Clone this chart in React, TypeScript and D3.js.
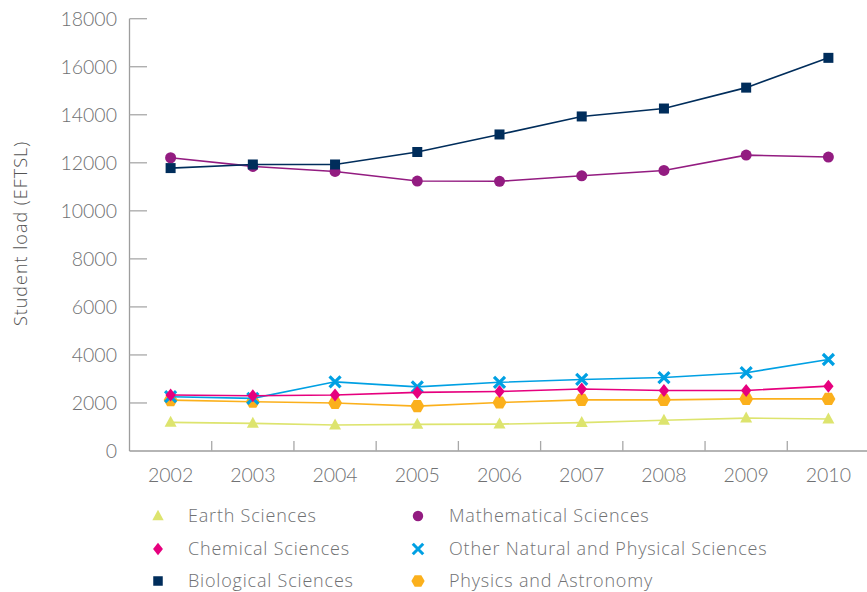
import React from "react";
import * as d3 from "d3";

const years = ["2002", "2003", "2004", "2005", "2006", "2007", "2008", "2009", "2010"];
const earth = [1190, 1150, 1080, 1110, 1120, 1180, 1280, 1370, 1330];
const chemical = [2330, 2300, 2330, 2440, 2480, 2580, 2520, 2520, 2700];
const biological = [11780, 11930, 11930, 12450, 13180, 13930, 14260, 15130, 16370];
const mathematical = [12210, 11850, 11640, 11240, 11230, 11460, 11680, 12320, 12240];
const otherNatural = [2260, 2190, 2880, 2670, 2860, 2980, 3060, 3260, 3810];
const physics = [2120, 2050, 2000, 1870, 2020, 2130, 2130, 2170, 2170];
const yTicks = [0, 2000, 4000, 6000, 8000, 10000, 12000, 14000, 16000, 18000];

type Shape = "triangle" | "diamond" | "square" | "circle" | "cross" | "hexagon";
const series: { name: string; values: number[]; color: string; shape: Shape }[] = [
  { name: "Earth Sciences", values: earth, color: "#dde46e", shape: "triangle" },
  { name: "Chemical Sciences", values: chemical, color: "#e6007e", shape: "diamond" },
  { name: "Biological Sciences", values: biological, color: "#002d5b", shape: "square" },
  { name: "Mathematical Sciences", values: mathematical, color: "#931c81", shape: "circle" },
  { name: "Other Natural and Physical Sciences", values: otherNatural, color: "#00a0e3", shape: "cross" },
  { name: "Physics and Astronomy", values: physics, color: "#fbb01c", shape: "hexagon" },
];

const drawOrder = ["Earth Sciences", "Physics and Astronomy", "Other Natural and Physical Sciences", "Chemical Sciences", "Mathematical Sciences", "Biological Sciences"];

function Marker({ shape, color, x, y, s }: { shape: Shape; color: string; x: number; y: number; s: number }) {
  switch (shape) {
    case "square":
      return <rect x={x - 5 * s} y={y - 5 * s} width={10 * s} height={10 * s} fill={color} />;
    case "circle":
      return <circle cx={x} cy={y} r={5.5 * s} fill={color} />;
    case "triangle": {
      const h = 11 * s, w = 12 * s;
      return <path d={`M${x},${y - h * 0.6}L${x + w / 2},${y + h * 0.4}L${x - w / 2},${y + h * 0.4}Z`} fill={color} />;
    }
    case "diamond": {
      const r = 6.5 * s;
      return <path d={`M${x},${y - r}L${x + r * 0.8},${y}L${x},${y + r}L${x - r * 0.8},${y}Z`} fill={color} />;
    }
    case "cross": {
      const r = 5.5 * s;
      return (
        <path d={`M${x - r},${y - r}L${x + r},${y + r}M${x - r},${y + r}L${x + r},${y - r}`} stroke={color} strokeWidth={3.2 * s} fill="none" />
      );
    }
    case "hexagon": {
      const r = 7 * s;
      const pts = d3.range(6).map((i) => {
        const a = (Math.PI / 3) * i;
        return `${x + r * Math.cos(a)},${y + r * Math.sin(a)}`;
      });
      return <path d={`M${pts.join("L")}Z`} fill={color} />;
    }
  }
  return null;
}

export default function App() {
  const width = 867, height = 592;
  const x0 = 129.5, x1 = 869.5;
  const x = d3.scaleBand<string>().domain(years).range([x0, x1]);
  const y = d3.scaleLinear().domain([0, 18000]).range([451, 18.7]);
  const cx = (yr: string) => (x(yr) as number) + x.bandwidth() / 2;
  const line = d3.line<number>().x((_, i) => cx(years[i])).y((v) => y(v));
  const font = "Lato, 'Open Sans', sans-serif";
  const font2 = "'Open Sans', Lato, sans-serif";
  const grey = "#707173";
  const legendRows = [516, 549, 581];
  const legendCols = [{ m: 158, t: 188 }, { m: 418, t: 449 }];
  const legendLayout = [
    ["Earth Sciences", 0, 0],
    ["Chemical Sciences", 0, 1],
    ["Biological Sciences", 0, 2],
    ["Mathematical Sciences", 1, 0],
    ["Other Natural and Physical Sciences", 1, 1],
    ["Physics and Astronomy", 1, 2],
  ] as const;
  return (
    <svg width={width} height={height} style={{ position: "absolute", left: 0, top: 0, background: "#fff" }} fontFamily={font}>
      {/* y axis */}
      <line x1={x0} x2={x0} y1={y(18000)} y2={y(0)} stroke="#9d9d9d" strokeWidth={1.3} />
      {yTicks.map((t) => (
        <g key={t}>
          {t > 0 && <line x1={x0} x2={147} y1={y(t)} y2={y(t)} stroke="#a8a8a8" strokeWidth={1.3} />}
          <text x={117} y={y(t)} dy="0.36em" textAnchor="end" fontSize={19.5} fill={grey} fontWeight={300}>
            {t}
          </text>
        </g>
      ))}
      {/* x axis */}
      <line x1={x0} x2={x1} y1={y(0)} y2={y(0)} stroke="#9d9d9d" strokeWidth={1.3} />
      {years.slice(1).map((yr) => (
        <line key={yr} x1={x(yr) as number} x2={x(yr) as number} y1={y(0)} y2={y(0) - 10} stroke="#a8a8a8" strokeWidth={1.3} />
      ))}
      {years.map((yr) => (
        <text key={yr} x={cx(yr)} y={482} textAnchor="middle" fontSize={19.5} fill={grey} fontWeight={300}>
          {yr}
        </text>
      ))}
      <text transform={`translate(26.5,233.5) rotate(-90)`} textAnchor="middle" fontSize={18} letterSpacing={1} fill="#555" fontFamily={font2} fontWeight={300}>
        Student load (EFTSL)
      </text>
      {drawOrder.map((n) => {
        const s = series.find((d) => d.name === n)!;
        return (
          <g key={n}>
            <path d={line(s.values) as string} fill="none" stroke={s.color} strokeWidth={1.6} />
            {s.values.map((v, i) => (
              <Marker key={i} shape={s.shape} color={s.color} x={cx(years[i])} y={y(v)} s={1} />
            ))}
          </g>
        );
      })}
      {legendLayout.map(([n, c, r]) => {
        const s = series.find((d) => d.name === n)!;
        const col = legendCols[c];
        const ry = legendRows[r];
        return (
          <g key={n}>
            <Marker shape={s.shape} color={s.color} x={col.m} y={ry} s={0.95} />
            <text x={col.t} y={ry} dy="0.36em" fontSize={18} letterSpacing={0.8} fill={grey} fontFamily={font2} fontWeight={300}>
              {n}
            </text>
          </g>
        );
      })}
    </svg>
  );
}
